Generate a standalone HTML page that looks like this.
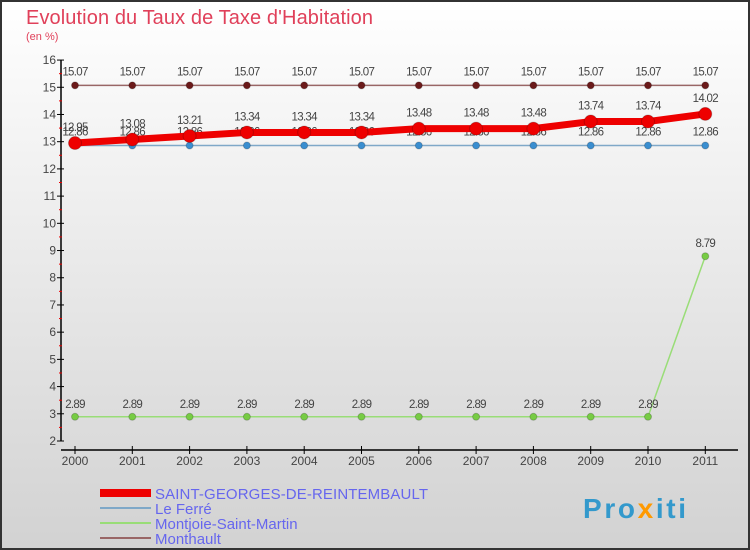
<!DOCTYPE html>
<html><head><meta charset="utf-8"><style>
body{margin:0;width:750px;height:550px;overflow:hidden}
svg{display:block;font-family:"Liberation Sans",sans-serif}
</style></head><body>
<svg id="c" width="750" height="550">
<defs><linearGradient id="bg" x1="0" y1="0" x2="0" y2="1"><stop offset="0" stop-color="#ffffff"/><stop offset="1" stop-color="#d2d2d2"/></linearGradient></defs>
<rect x="1" y="1" width="748" height="548" fill="url(#bg)" stroke="#333" stroke-width="2"/>
<text x="26" y="24" font-size="20" fill="#e0405a" textLength="347">Evolution du Taux de Taxe d'Habitation</text>
<text x="26" y="40" font-size="11" fill="#e0405a">(en %)</text>
<g id="axes"></g><g id="series"></g>
<g>
<rect x="100" y="489" width="51" height="8" fill="#ee0000"/>
<text x="155" y="499" font-size="15" fill="#6666ee" textLength="273">SAINT-GEORGES-DE-REINTEMBAULT</text>
<line x1="100" y1="508" x2="151" y2="508" stroke="#7fa8c8" stroke-width="2"/>
<text x="155" y="514" font-size="15" fill="#6666ee">Le Ferré</text>
<line x1="100" y1="523" x2="151" y2="523" stroke="#99dd77" stroke-width="2"/>
<text x="155" y="529" font-size="15" fill="#6666ee">Montjoie-Saint-Martin</text>
<line x1="100" y1="538" x2="151" y2="538" stroke="#996666" stroke-width="2"/>
<text x="155" y="544" font-size="15" fill="#6666ee">Monthault</text>
</g>
<text x="583" y="518" font-size="28" font-weight="bold" fill="#3399cc" textLength="103">Pro<tspan fill="#ff9900">x</tspan>iti</text>
</svg>
<script>
const years=[2000,2001,2002,2003,2004,2005,2006,2007,2008,2009,2010,2011];
const yTicks=[2,3,4,5,6,7,8,9,10,11,12,13,14,15,16];
const saint=[12.95,13.08,13.21,13.34,13.34,13.34,13.48,13.48,13.48,13.74,13.74,14.02];
const ferre=[12.86,12.86,12.86,12.86,12.86,12.86,12.86,12.86,12.86,12.86,12.86,12.86];
const montjoie=[2.89,2.89,2.89,2.89,2.89,2.89,2.89,2.89,2.89,2.89,2.89,8.79];
const monthault=[15.07,15.07,15.07,15.07,15.07,15.07,15.07,15.07,15.07,15.07,15.07,15.07];
const NS='http://www.w3.org/2000/svg';
const X=i=>75+i*57.3;
const Y=v=>441-(v-2)*27.21;
function mk(t,a,p){const e=document.createElementNS(NS,t);for(const k in a)e.setAttribute(k,a[k]);p.appendChild(e);return e;}
const ax=document.getElementById('axes');
let l=mk('line',{x1:61,y1:Y(16),x2:61,y2:Y(2),stroke:'#000','stroke-width':1.5},ax);


yTicks.forEach(v=>{
 mk('line',{x1:57,y1:Y(v),x2:64,y2:Y(v),stroke:'#000'},ax);
 if(v<16)mk('line',{x1:59,y1:Y(v+0.5),x2:62,y2:Y(v+0.5),stroke:'#e00'},ax);
 const t=mk('text',{x:56,y:Y(v)+4,'font-size':12,fill:'#444','text-anchor':'end'},ax);t.textContent=v;
 
 
});
l=mk('line',{x1:61,y1:450,x2:738,y2:450,stroke:'#000','stroke-width':1.5},ax);


years.forEach((y,i)=>{
 mk('line',{x1:X(i),y1:446,x2:X(i),y2:454,stroke:'#000'},ax);
 const t=mk('text',{x:X(i),y:465,'font-size':12,fill:'#444','text-anchor':'middle'},ax);t.textContent=y;
 
 
});
const sg=document.getElementById('series');
function draw(vals,name,color,w,r,fill,dy){
 const g=mk('g',{},sg);
 
 
 mk('polyline',{points:vals.map((v,i)=>X(i)+','+Y(v)).join(' '),fill:'none',stroke:color,'stroke-width':w,'stroke-linejoin':'round'},g);
 vals.forEach((v,i)=>{
  const c=mk('circle',{cx:X(i),cy:Y(v),r:r,fill:fill,stroke:'rgba(0,0,0,0.2)'},g);
  
  
  const t=mk('text',{x:X(i),y:Y(v)+dy,'font-size':11.5,fill:'#444','text-anchor':'middle','letter-spacing':'-0.7'},g);
  t.textContent=String(v.toFixed(2)).replace(/0$/,'');
  
  
 });
}
draw(monthault,'monthault','#996666',1.5,3.5,'#6b1a1a',-10);
draw(montjoie,'montjoie','#99dd77',1.5,3.5,'#77cc44',-9);
draw(ferre,'le-ferre','#7fa8c8',1.5,3.5,'#3a8ed0',-10);
draw(saint,'saint-georges','#ee0000',7,6.5,'#ee0000',-12);
</script>
</body></html>
